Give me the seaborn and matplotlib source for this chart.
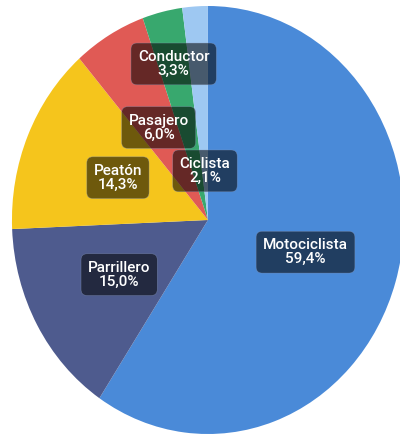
import numpy as np
import seaborn as sns
import matplotlib.pyplot as plt

sns.set_theme(style="white")
plt.rcParams['font.family'] = ['Roboto', 'DejaVu Sans']

# datos: víctimas por tipo de actor vial (%)
categorias = ['Motociclista', 'Parrillero', 'Peatón', 'Pasajero', 'Conductor', 'Ciclista']
porcentajes = [59.4, 15.0, 14.3, 6.0, 3.3, 2.1]
colores = ['#4a8ad8', '#4e5b8e', '#f5c51c', '#e05a55', '#38a86e', '#9ec8f2']

# distancia radial de cada etiqueta (fracción del radio)
dist_etiqueta = [0.52, 0.52, 0.50, 0.50, 0.75, 0.23]

fig = plt.figure(figsize=(4.0, 4.37), dpi=100)
ax = fig.add_axes([0, 0, 1, 1])

wedges, _ = ax.pie(porcentajes, colors=colores, startangle=90, counterclock=False,
                   wedgeprops={'linewidth': 0})

for w, cat, p, d in zip(wedges, categorias, porcentajes, dist_etiqueta):
    ang = np.deg2rad((w.theta1 + w.theta2) / 2)
    x, y = d * np.cos(ang), d * np.sin(ang)
    txt = f"{cat}\n{p:.1f}%".replace('.', ',')
    ax.text(x, y, txt, ha='center', va='center', color='white', fontsize=11,
            fontweight='medium', linespacing=1.0,
            bbox=dict(boxstyle='round,pad=0.45,rounding_size=0.4',
                      facecolor='black', alpha=0.55,
                      edgecolor='#8899bb', linewidth=0.4))

# el gráfico original está ligeramente estirado en vertical
ax.set_aspect('auto')
ax.set_xlim(-1.061, 0.980)
ax.set_ylim(-1.014, 1.028)
ax.axis('off')

fig.savefig('out.png', dpi=100)
